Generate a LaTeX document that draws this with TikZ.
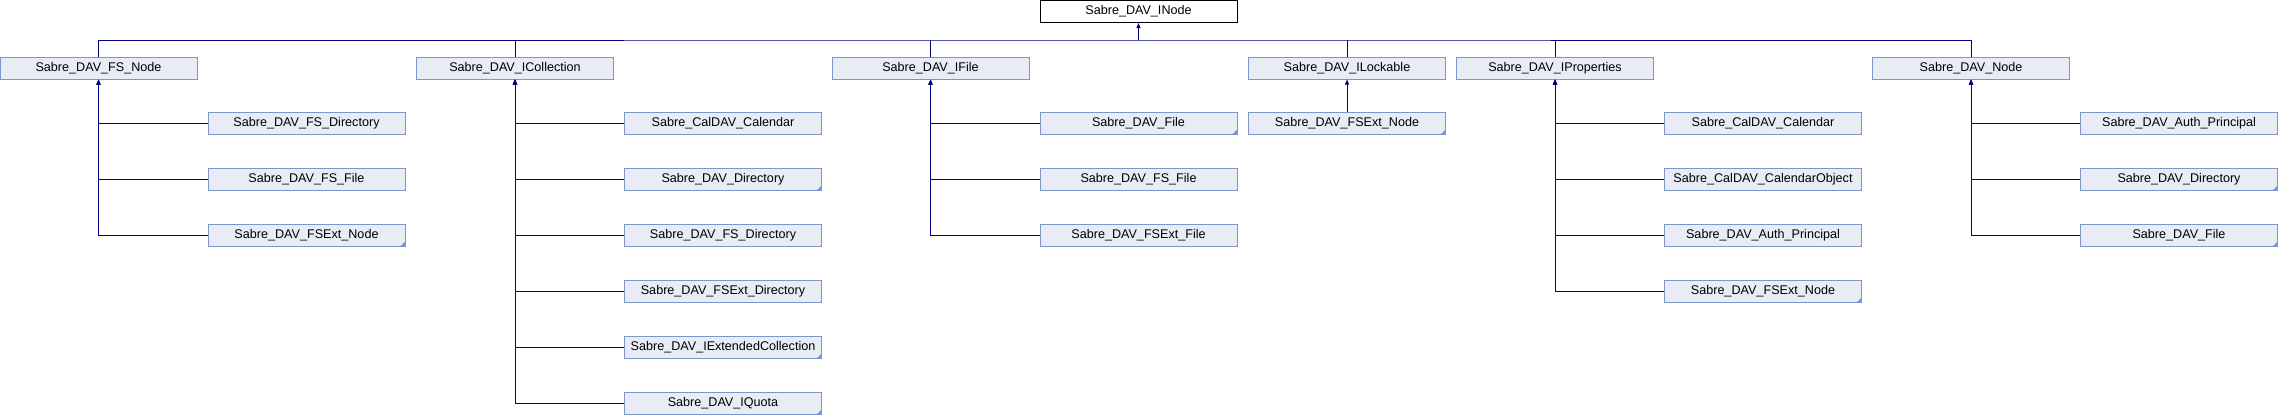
\documentclass[tikz,border=0pt]{standalone}
\usepackage{fontspec}
\setmainfont{Liberation Sans}
\usetikzlibrary{arrows.meta}
\definecolor{boxfill}{RGB}{232,236,245}
\definecolor{boxline}{RGB}{124,149,202}
\definecolor{linkblue}{RGB}{0,0,128}

\begin{document}
\begin{tikzpicture}[
    x=1pt,y=-1pt,
    cls/.style={draw=boxline,fill=boxfill,line width=1pt,minimum width=197pt,minimum height=22pt,
        inner sep=0pt,font=\fontsize{12.6}{14}\selectfont},
    leaf/.style={},
    more/.style={path picture={\fill[boxline] (path picture bounding box.south east)
        -- ++(-5pt,0pt) -- ++(5pt,5pt) -- cycle;}},
    link/.style={draw=linkblue,line width=1pt},
    inh/.style={link,{Triangle[width=4pt,length=5pt]}-},
]
\useasboundingbox (0,0) rectangle (2278,416);

% root
\node[cls,fill=white,draw=black] (inode) at (1138.5,11.5) {Sabre\_DAV\_INode};
\coordinate (bus) at (1138.5,40);

% first level
\node[cls] (fsnode)      at (98.5,68)  {Sabre\_DAV\_FS\_Node};
\node[cls] (icollection) at (515,68)   {Sabre\_DAV\_ICollection};
\node[cls] (ifile)       at (930.5,68) {Sabre\_DAV\_IFile};
\node[cls] (ilockable)   at (1347,68)  {Sabre\_DAV\_ILockable};
\node[cls] (iproperties) at (1555,68)  {Sabre\_DAV\_IProperties};
\node[cls] (davnode)     at (1971,68)  {Sabre\_DAV\_Node};

\draw[inh] (inode.south) -- (bus);
\draw[link] (fsnode.north) |- (bus) -| (davnode.north);
\foreach \n in {icollection,ifile,ilockable,iproperties}
    \draw[link] (\n.north) -- (\n.north |- bus);

% second level
\foreach \lbl/\kind [count=\i] in {Sabre\_DAV\_FS\_Directory/leaf,Sabre\_DAV\_FS\_File/leaf,
        Sabre\_DAV\_FSExt\_Node/more}{
    \node[cls,\kind] (fsnode-\i) at (306.5,{123.5+56*(\i-1)}) {\lbl};
    \draw[inh] (fsnode.south) |- (fsnode-\i.west);
}
\foreach \lbl/\kind [count=\i] in {Sabre\_CalDAV\_Calendar/leaf,Sabre\_DAV\_Directory/more,
        Sabre\_DAV\_FS\_Directory/leaf,Sabre\_DAV\_FSExt\_Directory/leaf,
        Sabre\_DAV\_IExtendedCollection/more,Sabre\_DAV\_IQuota/more}{
    \node[cls,\kind] (icollection-\i) at (723,{123.5+56*(\i-1)}) {\lbl};
    \draw[inh] (icollection.south) |- (icollection-\i.west);
}
\foreach \lbl/\kind [count=\i] in {Sabre\_DAV\_File/more,Sabre\_DAV\_FS\_File/leaf,
        Sabre\_DAV\_FSExt\_File/leaf}{
    \node[cls,\kind] (ifile-\i) at (1138.5,{123.5+56*(\i-1)}) {\lbl};
    \draw[inh] (ifile.south) |- (ifile-\i.west);
}
\node[cls,more] (ilockable-1) at (1347,123.5) {Sabre\_DAV\_FSExt\_Node};
\draw[inh] (ilockable.south) -- (ilockable-1.north);
\foreach \lbl/\kind [count=\i] in {Sabre\_CalDAV\_Calendar/leaf,Sabre\_CalDAV\_CalendarObject/leaf,
        Sabre\_DAV\_Auth\_Principal/leaf,Sabre\_DAV\_FSExt\_Node/more}{
    \node[cls,\kind] (iproperties-\i) at (1763,{123.5+56*(\i-1)}) {\lbl};
    \draw[inh] (iproperties.south) |- (iproperties-\i.west);
}
\foreach \lbl/\kind [count=\i] in {Sabre\_DAV\_Auth\_Principal/leaf,Sabre\_DAV\_Directory/more,
        Sabre\_DAV\_File/more}{
    \node[cls,\kind] (davnode-\i) at (2179,{123.5+56*(\i-1)}) {\lbl};
    \draw[inh] (davnode.south) |- (davnode-\i.west);
}
\end{tikzpicture}
\end{document}
